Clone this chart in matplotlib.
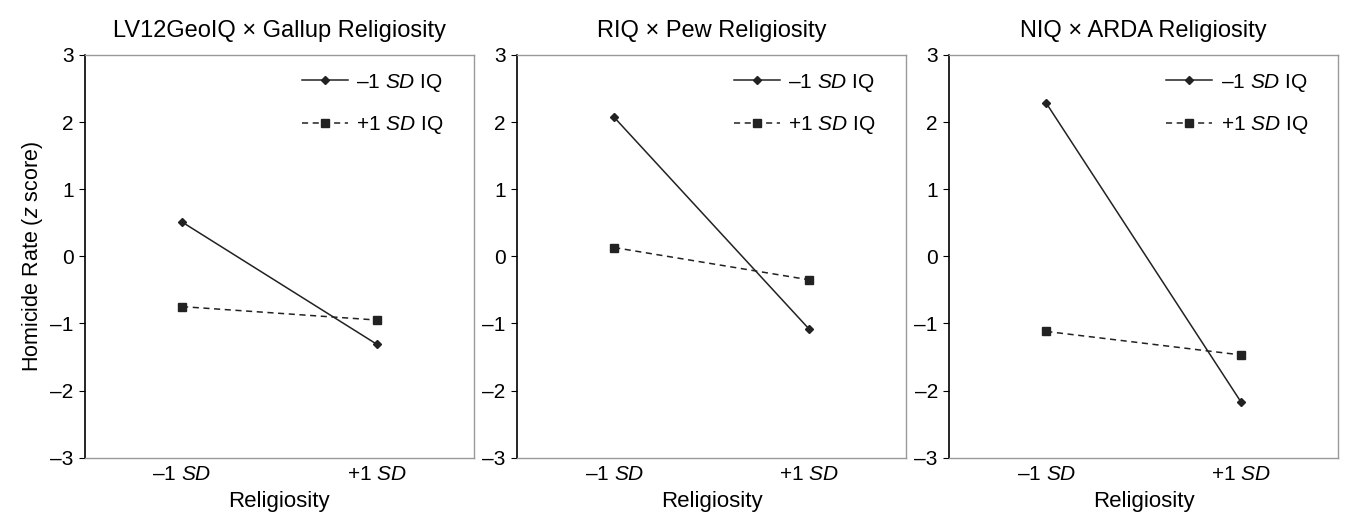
import matplotlib
matplotlib.use("Agg")
import matplotlib.pyplot as plt

plt.rcParams["font.family"] = ["Liberation Sans", "DejaVu Sans"]
plt.rcParams["mathtext.fontset"] = "custom"
plt.rcParams["mathtext.rm"] = "Liberation Sans"
plt.rcParams["mathtext.it"] = "Liberation Sans:italic"

titles = ["LV12GeoIQ \u00d7 Gallup Religiosity", "RIQ \u00d7 Pew Religiosity", "NIQ \u00d7 ARDA Religiosity"]
x_labels = ["\u20131 $\\it{SD}$", "+1 $\\it{SD}$"]
low_iq = [[0.51, -1.31], [2.07, -1.08], [2.28, -2.17]]
high_iq = [[-0.75, -0.95], [0.13, -0.35], [-1.12, -1.47]]
yticks = [-3, -2, -1, 0, 1, 2, 3]

fig, axes = plt.subplots(1, 3, figsize=(13.45, 5.23), dpi=100)
fig.subplots_adjust(left=0.063, right=0.995, top=0.895, bottom=0.125, wspace=0.11)

for i, ax in enumerate(axes):
    ax.plot([0, 1], low_iq[i], color="#222222", lw=1.1, marker="D", ms=4,
            label="\u20131 $\\it{SD}$ IQ")
    ax.plot([0, 1], high_iq[i], color="#222222", lw=1.1, ls=(0, (4, 3)), marker="s", ms=6,
            label="+1 $\\it{SD}$ IQ")
    ax.set_xlim(-0.5, 1.5)
    ax.set_ylim(-3, 3)
    ax.set_yticks(yticks)
    ax.set_yticklabels(["\u2013" + str(-v) if v < 0 else str(v) for v in yticks])
    ax.set_xticks([0, 1])
    ax.set_xticklabels(x_labels)
    ax.tick_params(axis="x", length=0, labelsize=15, pad=5)
    ax.tick_params(axis="y", length=4, labelsize=15, color="black", pad=4)
    for s in ["top", "right", "bottom"]:
        ax.spines[s].set_color("#999999")
        ax.spines[s].set_linewidth(1.0)
    ax.spines["left"].set_color("black")
    ax.spines["left"].set_linewidth(1.2)
    ax.set_title(titles[i], fontsize=17, pad=13)
    ax.set_xlabel("Religiosity", fontsize=16, labelpad=5)
    ax.legend(loc="upper right", bbox_to_anchor=(0.965, 1.0), frameon=False, fontsize=15,
              handlelength=2.2, handletextpad=0.4, labelspacing=1.0, borderaxespad=0.4)

axes[0].set_ylabel("Homicide Rate ($\\it{z}$ score)", fontsize=15.5, labelpad=4)

fig.savefig("out.png")
